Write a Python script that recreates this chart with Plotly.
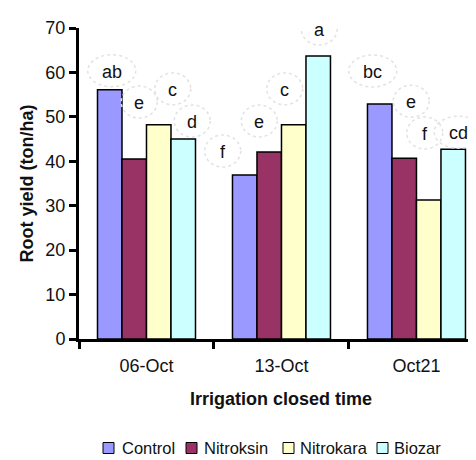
import plotly.graph_objects as go

# ---- data ----
categories = ["06-Oct", "13-Oct", "Oct21"]
series_names = ["Control", "Nitroksin", "Nitrokara", "Biozar"]
control = [56.1, 36.9, 52.9]
nitroksin = [40.5, 42.1, 40.7]
nitrokara = [48.2, 48.2, 31.3]
biozar = [45.0, 63.7, 42.7]
letters_control = ["ab", "f", "bc"]
letters_nitroksin = ["e", "e", "e"]
letters_nitrokara = ["c", "c", "f"]
letters_biozar = ["d", "a", "cd"]
y_ticks = [0, 10, 20, 30, 40, 50, 60, 70]

# ---- styling ----
colors = ["#9999FF", "#993366", "#FFFFCC", "#CCFFFF"]
FONT = "Liberation Sans, Arial, sans-serif"
TXT = "#111111"
bar_w = 0.1815
# label bubble offsets in px (horizontal, vertical above bar top)
label_dx = [[2, -22, -7], [5, -10, 7], [14, -9, -4], [9, 1, 5]]
label_dy = [[19, 24, 33], [57, 31, 57], [36, 36, 67], [18, 27, 17]]
# manual legend: square left edge and text start, px from plot-area left
legend_sq = [24, 107, 204, 298]
legend_tx = [41, 123, 219, 313]
legend_dy = -109  # px below x axis

values = [control, nitroksin, nitrokara, biozar]
letters = [letters_control, letters_nitroksin, letters_nitrokara, letters_biozar]

fig = go.Figure()
for name, vals, col in zip(series_names, values, colors):
    fig.add_trace(go.Bar(
        name=name, x=categories, y=vals,
        marker=dict(color=col, line=dict(color="black", width=1.5)),
    ))

annotations = []
shapes = []
for j in range(4):
    for i in range(3):
        xc = i + (j - 1.5) * bar_w
        v = values[j][i]
        txt = letters[j][i]
        dx = label_dx[j][i]
        dy = label_dy[j][i]
        hw = 24 if len(txt) > 1 else 18
        shapes.append(dict(
            type="circle", xref="x", yref="y",
            xsizemode="pixel", ysizemode="pixel",
            xanchor=xc, yanchor=v,
            x0=dx - hw, x1=dx + hw, y0=dy - 16, y1=dy + 16,
            line=dict(color="#e2e2e2", width=1.5, dash="dot"),
            fillcolor="rgba(255,255,255,0)", layer="above",
        ))
        annotations.append(dict(
            x=xc, y=v, xref="x", yref="y", text=txt, showarrow=False,
            xshift=dx, yshift=dy - 1, xanchor="center", yanchor="middle",
            font=dict(family=FONT, size=18, color=TXT),
        ))

# manual legend
for name, col, sx, tx in zip(series_names, colors, legend_sq, legend_tx):
    shapes.append(dict(
        type="rect", xref="paper", yref="paper",
        xsizemode="pixel", ysizemode="pixel", xanchor=0, yanchor=0,
        x0=sx, x1=sx + 11, y0=legend_dy - 5.5, y1=legend_dy + 5.5,
        fillcolor=col, line=dict(color="black", width=1),
    ))
    annotations.append(dict(
        text=name, xref="paper", yref="paper", x=0, y=0,
        xshift=tx, yshift=legend_dy, xanchor="left", yanchor="middle",
        showarrow=False, font=dict(family=FONT, size=16.5, color=TXT),
    ))

annotations.append(dict(
    text="<b>Irrigation closed time</b>", xref="paper", yref="paper",
    x=0.509, y=0, yshift=-60, xanchor="center", yanchor="middle",
    showarrow=False, font=dict(family=FONT, size=18, color=TXT),
))
annotations.append(dict(
    text="<b>Root yield (ton/ha)</b>", xref="paper", yref="paper",
    x=0, y=0.5, xshift=-53, textangle=-90, xanchor="center", yanchor="middle",
    showarrow=False, font=dict(family=FONT, size=18, color=TXT),
))

# page body has an 8px margin, so the figure is offset by 8px right/down
fig.update_layout(
    width=468, height=452,
    margin=dict(l=71, r=0, t=20, b=121, autoexpand=False),
    paper_bgcolor="white", plot_bgcolor="white",
    barmode="group", bargap=0.274, bargroupgap=0,
    font=dict(family=FONT, size=18, color=TXT),
    showlegend=False,
    annotations=annotations,
    shapes=shapes,
    xaxis=dict(
        range=[-0.5, 2.441], showline=True, linecolor="black", linewidth=3,
        ticks="outside", tickson="boundaries", ticklen=7, tickwidth=3,
        tickcolor="black", showgrid=False, zeroline=False, automargin=False,
        tickfont=dict(family=FONT, size=18, color=TXT), ticklabelstandoff=8,
    ),
    yaxis=dict(
        range=[0, 70], tickvals=y_ticks, showline=True, linecolor="black",
        linewidth=3, ticks="outside", ticklen=7, tickwidth=3, tickcolor="black",
        showgrid=False, zeroline=False, automargin=False,
        tickfont=dict(family=FONT, size=18, color=TXT), ticklabelstandoff=0,
    ),
)

fig.write_html("out.html")
